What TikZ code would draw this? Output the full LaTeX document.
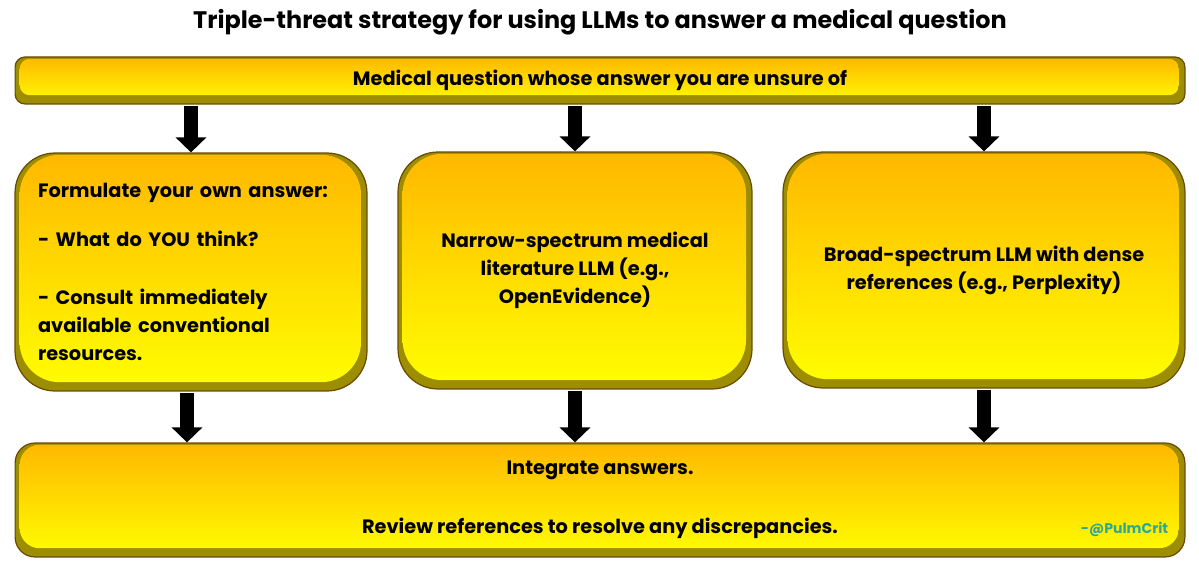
\documentclass[tikz,border=0pt]{standalone}
\usepackage{fontspec}
\setmainfont{Poppins}
\usetikzlibrary{arrows.meta,positioning}

\definecolor{boxedge}{HTML}{6B4A00}
\definecolor{boxolive}{HTML}{9C8E00}
\definecolor{boxtop}{HTML}{FFB700}
\definecolor{boxbottom}{HTML}{FFFF00}
\definecolor{tagteal}{HTML}{2BA89C}

\tikzset{
  bevel/.style={draw=boxedge, line width=0.7pt, fill=boxolive, rounded corners=#1,
    font=\fontsize{11}{16}\selectfont\bfseries, inner sep=0pt,
    path picture={\shade[top color=boxtop, bottom color=boxbottom, rounded corners=#1]
      ([xshift=2.6pt,yshift=5pt]path picture bounding box.south west) rectangle
      ([xshift=-3.4pt,yshift=-1pt]path picture bounding box.north east);}},
  heading/.style={font=\fontsize{13.6}{18}\selectfont\bfseries},
  fatarrow/.style={line width=0.28cm, -{Triangle[width=0.6cm,length=0.3cm]}, shorten <=1pt},
}

\begin{document}
\begin{tikzpicture}[x=0.02cm,y=-0.02cm]
\useasboundingbox (0,0) rectangle (1199,570);

\node[heading] (title) at (600,22) {Triple-threat strategy for using LLMs to answer a medical question};

% question bar
\node[bevel=0.2cm, minimum width=23.4cm, minimum height=0.94cm] (quest) at (600,80.5)
  {Medical question whose answer you are unsure of};

% the three routes
\node[bevel=0.8cm, minimum width=7.04cm, minimum height=4.76cm, align=left,
      text width=6.12cm, inner xsep=0.46cm] (own) at (191,272)
  {Formulate your own answer:\\[0.42cm]
   - What do YOU think?\\[0.58cm]
   - Consult immediately\\
   available conventional\\
   resources.};
\node[bevel=0.8cm, minimum width=7.08cm, minimum height=4.74cm, align=center] (narrow) at (575,270.5)
  {Narrow-spectrum medical\\
   literature LLM (e.g.,\\
   OpenEvidence)};
\node[bevel=0.8cm, minimum width=8.04cm, minimum height=4.72cm, align=center] (broad) at (984,270)
  {Broad-spectrum LLM with dense\\
   references (e.g., Perplexity)};

% result
\node[bevel=0.4cm, minimum width=23.4cm, minimum height=2.28cm, align=center] (integ) at (600,500)
  {Integrate answers.\\[0.62cm]
   Review references to resolve any discrepancies.};
\node[font=\fontsize{8}{10}\selectfont\bfseries, text=tagteal, anchor=south east, inner sep=0pt]
  (tag) at ([xshift=-0.34cm,yshift=0.42cm]integ.south east) {-@PulmCrit};

% arrows
\draw[fatarrow] (quest.south -| own.north) -- (own.north);
\draw[fatarrow] (quest.south -| narrow.north) -- (narrow.north);
\draw[fatarrow] (quest.south -| broad.north) -- (broad.north);
\draw[fatarrow] ([xshift=-0.08cm]own.south) -- ([xshift=-0.08cm]own.south |- integ.north);
\draw[fatarrow] (narrow.south) -- (narrow.south |- integ.north);
\draw[fatarrow] (broad.south) -- (broad.south |- integ.north);
\end{tikzpicture}
\end{document}
